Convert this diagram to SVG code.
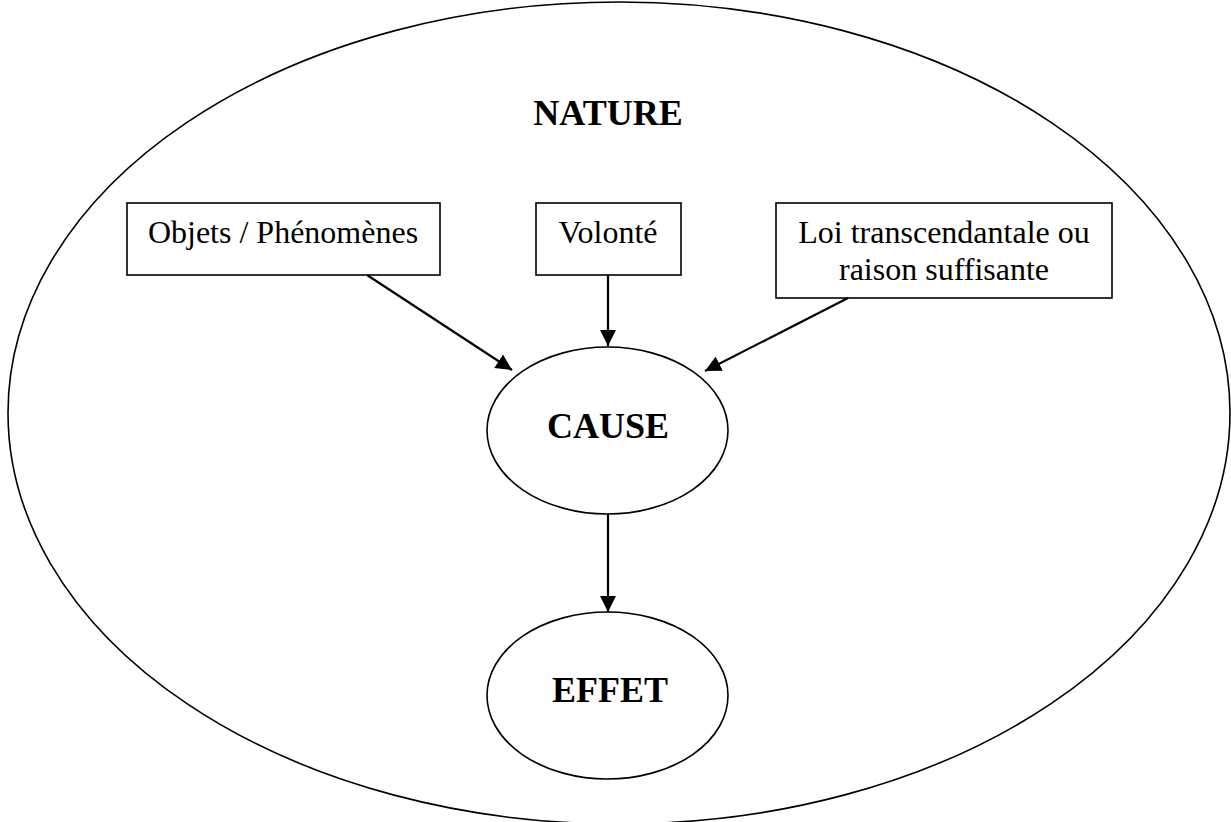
<svg xmlns="http://www.w3.org/2000/svg" width="1231" height="822" viewBox="0 0 1231 822">
  <style>
    .shape { fill: #ffffff; stroke: #000000; stroke-width: 1.6; }
    .outer { fill: none; stroke: #000000; stroke-width: 1.6; }
    .lbl { font-family: "Liberation Serif", "Times New Roman", serif; font-size: 32px; fill: #000000; text-anchor: middle; }
    .big { font-family: "Liberation Serif", "Times New Roman", serif; font-size: 36px; font-weight: bold; fill: #000000; text-anchor: middle; }
    .conn { stroke: #000000; stroke-width: 2.2; fill: none; marker-end: url(#arrow); }
  </style>
  <defs>
    <marker id="arrow" markerUnits="userSpaceOnUse" markerWidth="16" markerHeight="16" refX="16" refY="8" orient="auto">
      <path d="M0,0 L16,8 L0,16 z" fill="#000000"/>
    </marker>
  </defs>
  <rect width="1231" height="822" fill="#ffffff"/>

  <g id="nature">
    <ellipse class="outer" cx="619" cy="413" rx="611" ry="411"/>
    <text class="big" x="608" y="125">NATURE</text>
  </g>

  <g id="objets">
    <rect class="shape" x="127" y="203" width="313" height="72"/>
    <text class="lbl" x="283" y="243">Objets / Phénomènes</text>
  </g>

  <g id="volonte">
    <rect class="shape" x="536" y="203" width="145" height="72"/>
    <text class="lbl" x="608" y="243">Volonté</text>
  </g>

  <g id="loi">
    <rect class="shape" x="776" y="203" width="336" height="95"/>
    <text class="lbl" x="944" y="243">Loi transcendantale ou</text>
    <text class="lbl" x="944" y="280">raison suffisante</text>
  </g>

  <g id="cause">
    <ellipse class="shape" cx="607.5" cy="430.5" rx="120.5" ry="83.5"/>
    <text class="big" x="608" y="438">CAUSE</text>
  </g>

  <g id="effet">
    <ellipse class="shape" cx="607.5" cy="695.5" rx="120.5" ry="83.5"/>
    <text class="big" x="610" y="702">EFFET</text>
  </g>

  <g id="connectors">
    <line class="conn" x1="367" y1="275" x2="512" y2="370"/>
    <line class="conn" x1="608" y1="275" x2="608" y2="346"/>
    <line class="conn" x1="848" y1="298" x2="705" y2="371"/>
    <line class="conn" x1="608" y1="514" x2="608" y2="612"/>
  </g>
</svg>
